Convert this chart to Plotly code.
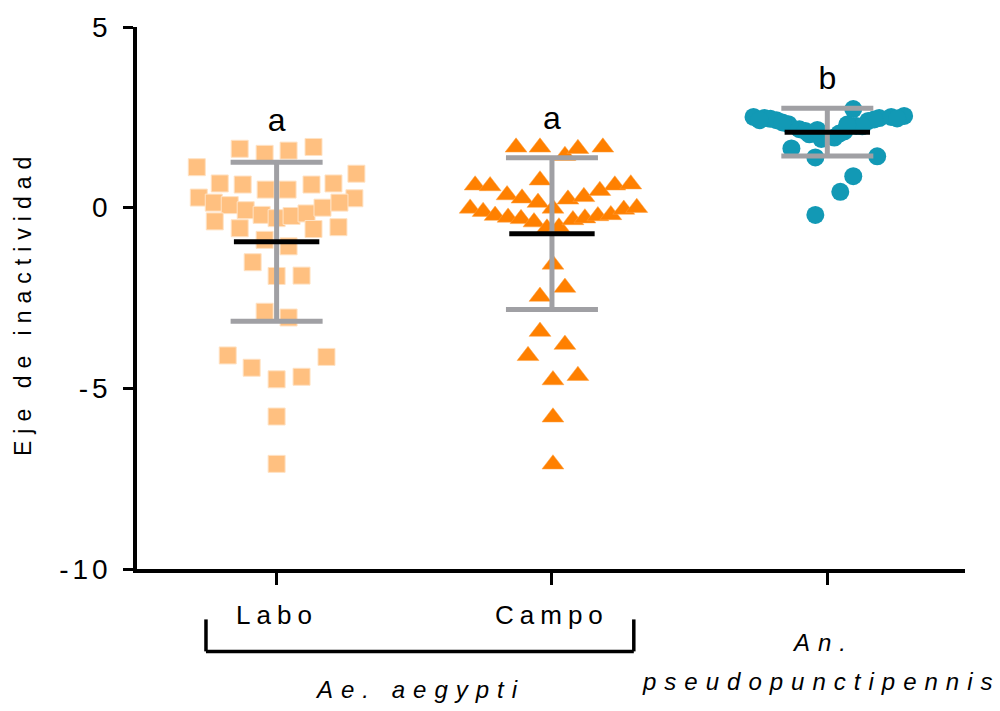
import plotly.graph_objects as go

# ---------------- data ----------------
categories = ["Labo", "Campo", "An. pseudopunctipennis"]

labo_values = [1.63, 1.49, 1.58, 1.68, 1.12, 0.94, 0.67, 0.64, 0.50, 0.50, 0.64, 0.67,
               0.28, 0.26, 0.14, 0.07, -0.07, -0.20, -0.29, -0.23, -0.16, 0.00, 0.14,
               -0.38, -0.57, -0.59, -0.54, -0.89, -1.07, -1.51, -1.89, -1.88, -2.88,
               -3.04, -4.09, -4.13, -4.43, -4.68, -4.75, -5.78, -7.09]
labo_jitter_px = [-37, -12, 12, 37, -80, 80, -57, -34, -11, 11, 35, 57,
                  -78, 78, -63, -47, -31, -15, 0, 15, 30, 46, 63,
                  -62, -37, 37, 62, -12, 12, -24, 0, 25, -12,
                  12, -49, 50, -25, 25, 0, 0, 0]

campo_values = [1.67, 1.67, 1.44, 1.63, 1.67, 0.76, 0.62, 0.60, 0.62, 0.65, 0.35, 0.26,
                0.14, 0.23, 0.30, 0.47, -0.02, -0.11, -0.22, -0.27, -0.31, -0.40, -0.02,
                -0.57, -0.54, -0.34, -0.29, -0.23, -0.20, -0.05, 0.00, -1.57, -2.21,
                -2.46, -3.43, -3.79, -4.10, -4.65, -4.77, -5.80, -7.10]
campo_jitter_px = [-36, -12, 13, 26, 51, -12, -77, -62, 63, 79, -45, -30,
                   -14, 16, 32, 48, -82, -69, -57, -44, -31, -18, 1,
                   -5, 7, 21, 33, 46, 59, 72, 85, 1, 13,
                   -12, -12, 13, -24, 26, 1, 1, 1]

pseudo_values = [2.51, 2.48, 2.42, 2.31, 2.17, 2.03, 1.90, 1.94, 2.11, 2.26, 2.40, 2.48,
                 2.51, 2.54, 2.73, 1.64, 1.39, 1.42, 0.87, 0.44, -0.20,
                 2.46, 2.44, 2.36, 2.25, 2.12, 2.05, 2.15, 2.30, 2.42, 2.47]
pseudo_jitter_px = [-74, -63, -51, -39, -28, -18, -6, 7, 17, 29, 41, 52,
                    64, 77, 26, -36, -12, 50, 26, 13, -12,
                    -57, 47, -45, 35, -22, 12, -10, 20, -68, 70]

group_means = [-0.94, -0.72, 2.09]
group_sds = [2.20, 2.10, 0.66]
letters = ["a", "a", "b"]
letter_y = [2.35, 2.4, 3.5]

y_ticks = [5, 0, -5, -10]

# ---------------- figure ----------------
PX_PER_CAT = 276.0
FONT = "Liberation Sans"

def xs(center, jit):
    return [center + j / PX_PER_CAT for j in jit]

def spaced(t, px):
    return f'<span style="letter-spacing:{px}px">{t}</span>'

fig = go.Figure()

fig.add_trace(go.Scatter(
    x=xs(0, labo_jitter_px), y=labo_values, mode="markers",
    marker=dict(symbol="square", size=17, color="#FFC080",
                line=dict(width=1, color="#FFE2C4")),
    showlegend=False, hoverinfo="y"))
fig.add_trace(go.Scatter(
    x=xs(1, campo_jitter_px), y=campo_values, mode="markers",
    marker=dict(symbol="triangle-up", size=19, color="#FF8000",
                line=dict(width=0.5, color="#FFA040")),
    showlegend=False, hoverinfo="y"))
fig.add_trace(go.Scatter(
    x=xs(2, pseudo_jitter_px), y=pseudo_values, mode="markers",
    marker=dict(symbol="circle", size=18, color="#1299B5", line=dict(width=0)),
    showlegend=False, hoverinfo="y"))

# SD error bars (grey)
fig.add_trace(go.Scatter(
    x=[0, 1, 2], y=group_means, mode="markers",
    marker=dict(size=1, color="rgba(0,0,0,0)"),
    error_y=dict(type="data", array=group_sds, visible=True,
                 color="#A0A0A4", thickness=5, width=46),
    showlegend=False, hoverinfo="skip"))
# mean lines (black)
fig.add_trace(go.Scatter(
    x=[0, 1, 2], y=group_means, mode="markers",
    marker=dict(symbol="line-ew", size=61, color="black",
                line=dict(width=5, color="black")),
    showlegend=False, hoverinfo="y"))

# significance letters
fig.add_trace(go.Scatter(
    x=[0, 1, 2], y=letter_y, mode="text", text=letters,
    textfont=dict(family=FONT, size=32, color="black"),
    showlegend=False, hoverinfo="skip"))

fig.update_layout(
    width=1000, height=711,
    margin=dict(l=137, r=35, t=19, b=142),
    plot_bgcolor="white", paper_bgcolor="white",
    font=dict(family=FONT, color="black"),
    xaxis=dict(range=[-0.507, 2.5], showgrid=False, zeroline=False,
               showline=True, linecolor="black", linewidth=3.5,
               tickmode="array", tickvals=[0, 1, 2], ticktext=["", "", ""],
               ticks="outside", ticklen=12, tickwidth=3, tickcolor="black"),
    yaxis=dict(range=[-10, 5], showgrid=False, zeroline=False,
               showline=True, linecolor="black", linewidth=3.5,
               tickmode="array", tickvals=y_ticks,
               ticktext=[spaced(str(v), 4) for v in y_ticks],
               ticks="outside", ticklen=10, tickwidth=3, tickcolor="black",
               ticklabelstandoff=6,
               tickfont=dict(family=FONT, size=28, color="black")),
)

annos = [
    dict(x=0, y=-0.084, xref="x", yref="paper",
         text=spaced(categories[0], 6), font_size=26),
    dict(x=1, y=-0.084, xref="x", yref="paper",
         text=spaced(categories[1], 6), font_size=26),
    dict(x=0.342, y=-0.222, xref="paper", yref="paper",
         text=spaced("<i>Ae. aegypti</i>", 8), font_size=24),
    dict(x=2 - 4 / PX_PER_CAT, y=-0.135, xref="x", yref="paper",
         text=spaced("<i>An.</i>", 8), font_size=24),
    dict(x=2 - 6 / PX_PER_CAT, y=-0.208, xref="x", yref="paper",
         text=spaced("<i>pseudopunctipennis</i>", 8), font_size=24),
    dict(x=-0.137, y=0.49, xref="paper", yref="paper", textangle=-90,
         text=spaced("Eje de inactividad", 7), font_size=23),
]
for a in annos:
    fs = a.pop("font_size")
    fig.add_annotation(**a, showarrow=False, xanchor="center", yanchor="middle",
                       font=dict(family=FONT, size=fs, color="black"))

# bracket under Labo / Campo
bx0, bx1 = 0.0833, 0.600
by_top, by_bot = -0.093, -0.152
for (x0, y0, x1, y1) in [(bx0, by_top, bx0, by_bot), (bx0, by_bot, bx1, by_bot),
                         (bx1, by_bot, bx1, by_top)]:
    fig.add_shape(type="line", xref="paper", yref="paper", x0=x0, y0=y0, x1=x1, y1=y1,
                  line=dict(color="black", width=3.5))

fig.write_html("out.html")
